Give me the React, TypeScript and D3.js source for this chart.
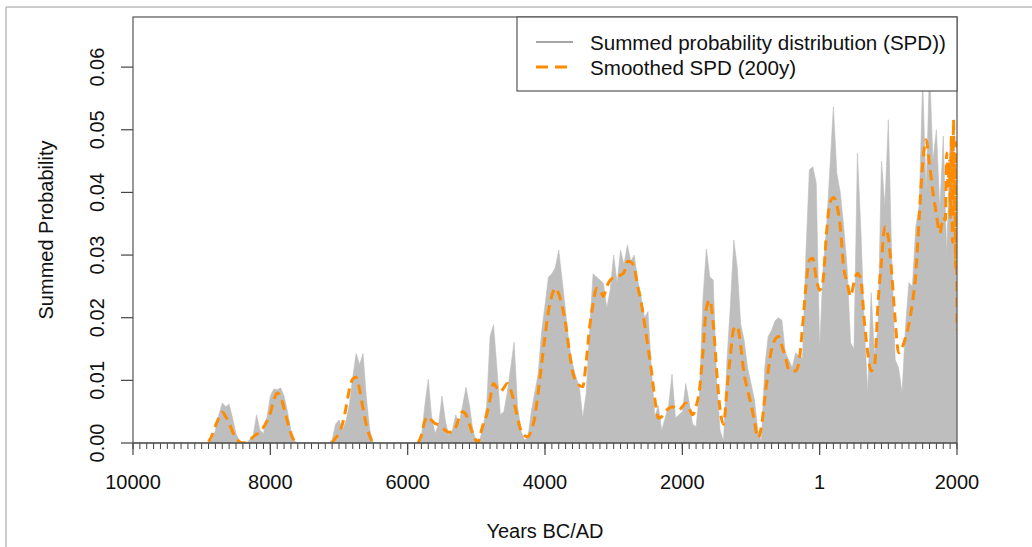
import React from 'react';
import * as d3 from 'd3';

// SPD values, one per 50 years from 10000 BC to AD 2000
const spdYears = d3.range(-10000, 2001, 50);
const spdValues = [
  // -10000 .. -8900
  0, 0, 0, 0, 0, 0, 0, 0, 0, 0, 0, 0, 0, 0, 0, 0, 0, 0, 0, 0, 0, 0, 0,
  // -8850 .. -7650
  0.0005, 0.002, 0.0045, 0.0064, 0.0058, 0.0062, 0.004, 0.0015, 0.0003, 0, 0, 0.0005, 0.0012,
  0.0045, 0.002, 0.0015, 0.004, 0.0075, 0.0086, 0.0085, 0.0088, 0.0075, 0.005, 0.002, 0.0003,
  // -7600 .. -7150
  0, 0, 0, 0, 0, 0, 0, 0, 0, 0,
  // -7100 .. -6550
  0.0005, 0.003, 0.0037, 0.002, 0.0035, 0.006, 0.0105, 0.0143, 0.0125, 0.0143, 0.007, 0.002,
  // -6500 .. -5850
  0, 0, 0, 0, 0, 0, 0, 0, 0, 0, 0, 0, 0, 0,
  // -5800 .. -5000
  0.001, 0.006, 0.0102, 0.004, 0.0015, 0.003, 0.0075, 0.0035, 0.0012, 0.002, 0.0045, 0.003,
  0.006, 0.0089, 0.006, 0.002, 0.0002,
  // -4950 .. -4000
  0.0005, 0.0025, 0.006, 0.017, 0.0189, 0.012, 0.0045, 0.005, 0.008, 0.012, 0.0161, 0.006,
  0.002, 0.0005, 0.0008, 0.005, 0.008, 0.011, 0.0177, 0.022,
  // -3950 .. -3000
  0.0265, 0.027, 0.028, 0.0308, 0.026, 0.021, 0.0157, 0.0127, 0.0105, 0.009, 0.004, 0.008,
  0.018, 0.027, 0.0265, 0.026, 0.0255, 0.0215, 0.0245, 0.03,
  // -2950 .. -2000
  0.0255, 0.0308, 0.0285, 0.0316, 0.029, 0.03, 0.026, 0.0234, 0.02, 0.021, 0.0117, 0.0042,
  0.006, 0.002, 0.004, 0.006, 0.011, 0.004, 0.0045, 0.005,
  // -1950 .. -1000
  0.0095, 0.0065, 0.003, 0.0026, 0.008, 0.023, 0.031, 0.0265, 0.026, 0.01, 0.002, 0.0003,
  0.0133, 0.022, 0.0324, 0.028, 0.019, 0.0164, 0.012, 0.0095,
  // -950 .. 0
  0.0069, 0.002, 0.0002, 0.012, 0.017, 0.018, 0.0195, 0.02, 0.0196, 0.0144, 0.0133, 0.012,
  0.0144, 0.0139, 0.0135, 0.0303, 0.0436, 0.0441, 0.0415, 0.0149,
  // 50 .. 1000
  0.028, 0.0345, 0.044, 0.0537, 0.043, 0.04, 0.0345, 0.028, 0.016, 0.015, 0.0463, 0.034,
  0.0186, 0.008, 0.024, 0.014, 0.0186, 0.045, 0.0378, 0.0516,
  // 1050 .. 2000
  0.0292, 0.0133, 0.012, 0.008, 0.0186, 0.0256, 0.025, 0.0345, 0.038, 0.058, 0.04, 0.06,
  0.045, 0.05, 0.0372, 0.049, 0.03, 0.0484, 0.047, 0.0186,
];

// Smoothed SPD (200y), null marks a break in the line
const smoothYears = [
  -8900, -8850, -8800, -8750, -8700, -8650, -8600, -8550, -8500, -8450, -8400, -8350, -8300,
  -8250, -8200, -8150, -8100, -8050, -8000, -7950, -7900, -7850, -7800, -7750, -7700, -7650, -7620,
  null,
  -7100, -7050, -7000, -6950, -6900, -6850, -6800, -6750, -6700, -6650, -6600, -6550, -6500,
  null,
  -5850, -5800, -5750, -5700, -5650, -5600, -5550, -5500, -5450, -5400, -5350, -5300, -5250,
  -5200, -5150, -5100, -5050, -5000, -4975, -4950, -4900, -4850, -4800, -4750, -4700, -4650,
  -4600, -4550, -4500, -4450, -4400, -4350, -4300, -4250, -4200, -4150, -4100, -4050, -4000,
  -3950, -3900, -3850, -3800, -3750, -3700, -3650, -3600, -3550, -3500, -3450, -3400, -3350,
  -3300, -3250, -3200, -3150, -3100, -3050, -3000, -2950, -2900, -2850, -2800, -2750, -2700,
  -2650, -2600, -2550, -2500, -2450, -2400, -2350, -2300, -2250, -2200, -2150, -2100, -2050,
  -2000, -1950, -1900, -1850, -1800, -1750, -1700, -1650, -1600, -1550, -1500, -1450, -1400,
  -1350, -1300, -1250, -1200, -1150, -1100, -1050, -1000, -950, -900, -850, -800, -750, -700,
  -650, -600, -550, -500, -450, -400, -350, -300, -250, -200, -150, -100, -50, 0, 50, 100, 150,
  200, 250, 300, 350, 400, 450, 500, 550, 600, 650, 700, 750, 800, 850, 900, 950, 1000, 1050,
  1100, 1150, 1200, 1250, 1300, 1350, 1400, 1450, 1500, 1550, 1600, 1650, 1700, 1750, 1800,
  1830, 1850, 1870, 1890, 1905, 1920, 1935, 1950, 1960, 1970, 1980, 1990, 2000,
];
const smoothValues = [
  0.0002, 0.0012, 0.0027, 0.004, 0.0049, 0.0042, 0.0032, 0.0018, 0.0008, 0.0002, 0, 0.0001, 0.0004,
  0.001, 0.0014, 0.0017, 0.0025, 0.0035, 0.0048, 0.0068, 0.008, 0.0074, 0.0055, 0.0034, 0.0015, 0.0003, 0,
  null,
  0, 0.0008, 0.0015, 0.003, 0.0055, 0.0085, 0.0102, 0.0105, 0.0085, 0.0055, 0.0028, 0.001, 0,
  null,
  0, 0.0012, 0.0035, 0.0042, 0.0036, 0.0031, 0.0029, 0.0025, 0.002, 0.0017, 0.0017, 0.0025, 0.004,
  0.005, 0.0045, 0.003, 0.0015, 0.0003, 0, 0.001, 0.003, 0.0045, 0.007, 0.0095, 0.0088, 0.0082,
  0.0088, 0.0095, 0.0085, 0.0065, 0.004, 0.002, 0.0012, 0.001, 0.002, 0.004, 0.008, 0.0125, 0.017,
  0.021, 0.0235, 0.0247, 0.0238, 0.0218, 0.019, 0.015, 0.0115, 0.0098, 0.0092, 0.009, 0.013, 0.0185,
  0.0222, 0.0247, 0.0245, 0.0234, 0.025, 0.026, 0.0264, 0.0266, 0.0268, 0.0272, 0.029, 0.0289, 0.028,
  0.025, 0.0225, 0.019, 0.0154, 0.0115, 0.007, 0.004, 0.0042, 0.005, 0.0055, 0.0058, 0.0056, 0.0053,
  0.0058, 0.0064, 0.0055, 0.0045, 0.0058, 0.0085, 0.0145, 0.0215, 0.0228, 0.019, 0.0115, 0.0053, 0.003,
  0.0085, 0.014, 0.0182, 0.0186, 0.0155, 0.011, 0.0085, 0.0062, 0.0035, 0.0008, 0.0025, 0.007, 0.0115, 0.015,
  0.0165, 0.017, 0.0155, 0.0138, 0.0117, 0.0115, 0.0115, 0.013, 0.0185, 0.025, 0.0292, 0.0295, 0.0262, 0.0244, 0.026, 0.0335, 0.0383,
  0.0392, 0.038, 0.0345, 0.028, 0.0256, 0.0234, 0.0256, 0.0271, 0.026, 0.0195, 0.0144, 0.0115, 0.0125, 0.0223, 0.029, 0.0345, 0.0328, 0.027,
  0.0196, 0.0144, 0.0152, 0.0168, 0.019, 0.0223, 0.027, 0.036, 0.0445, 0.0484, 0.0445, 0.04, 0.0365, 0.0335, 0.036,
  0.0356, 0.0463, 0.041, 0.045, 0.036, 0.049, 0.032, 0.0516, 0.038, 0.046, 0.028, 0.048, 0.018,
];

const xMajorTicks = [-10000, -8000, -6000, -4000, -2000, 0, 2000];
const xMajorLabels = ['10000', '8000', '6000', '4000', '2000', '1', '2000'];
const xMinorTicks = d3.range(-10000, 2001, 100);
const yTicks = [0, 0.01, 0.02, 0.03, 0.04, 0.05, 0.06];

const legendItems = ['Summed probability distribution (SPD))', 'Smoothed SPD (200y)'];

const FONT = '"Liberation Sans", Arial, Helvetica, sans-serif';
const SPD_GREY = '#bebebe';
const ORANGE = '#ff8c00';
const AXIS = '#444';

export default function App() {
  const width = 1032;
  const height = 547;
  const left = 133, right = 957, top = 17, bottom = 443;

  const x = d3.scaleLinear().domain([-10000, 2000]).range([left, right]);
  const y = d3.scaleLinear().domain([0, 0.068]).range([bottom, top]);

  const spd = spdYears.map((yr, i) => ({ yr, v: spdValues[i] ?? 0 }));
  const smooth = smoothYears.map((yr, i) => ({ yr, v: smoothValues[i] }));

  const area = d3.area<{ yr: number; v: number }>()
    .x(d => x(d.yr))
    .y0(y(0))
    .y1(d => y(d.v))
    .curve(d3.curveLinear);

  const line = d3.line<{ yr: number | null; v: number | null }>()
    .defined(d => d.yr !== null && d.v !== null)
    .x(d => x(d.yr as number))
    .y(d => y(d.v as number))
    .curve(d3.curveMonotoneX);

  const legLeft = 517, legBottom = 91;

  return (
    <svg width={width} height={height}
      style={{ position: 'absolute', left: 0, top: 0, display: 'block', background: '#fff' }}
      fontFamily={FONT}>
      {/* outer frame */}
      <line x1={6} y1={7} x2={width} y2={7} stroke="#bbb" strokeWidth={1.5} />
      <line x1={6} y1={7} x2={6} y2={height} stroke="#bbb" strokeWidth={1.5} />

      <defs>
        <clipPath id="plot-clip">
          <rect x={left} y={top} width={right - left} height={bottom - top} />
        </clipPath>
      </defs>

      <g clipPath="url(#plot-clip)">
        <path d={area(spd) || ''} fill={SPD_GREY} stroke={SPD_GREY} strokeWidth={0.6} />
        <path d={line(smooth) || ''} fill="none" stroke={ORANGE} strokeWidth={3}
          strokeDasharray="10 6" />
      </g>

      {/* x axis */}
      <line x1={left} y1={bottom} x2={right} y2={bottom} stroke={AXIS} strokeWidth={1.2} />
      {xMinorTicks.map(t => (
        <line key={'m' + t} x1={x(t)} x2={x(t)} y1={bottom} y2={bottom + 6} stroke={AXIS} strokeWidth={1} />
      ))}
      {xMajorTicks.map((t, i) => (
        <g key={'M' + t}>
          <line x1={x(t)} x2={x(t)} y1={bottom} y2={bottom + 12} stroke={AXIS} strokeWidth={1.2} />
          <text x={x(t)} y={482} textAnchor="middle" dominantBaseline="central" fontSize={20} fill="#111">
            {xMajorLabels[i]}
          </text>
        </g>
      ))}

      {/* y axis */}
      {yTicks.map(t => (
        <g key={'y' + t}>
          <line x1={left - 12} x2={left} y1={y(t)} y2={y(t)} stroke={AXIS} strokeWidth={1.2} />
          <text transform={`translate(97,${y(t)}) rotate(-90)`} textAnchor="middle"
            dominantBaseline="central" fontSize={20} fill="#111">
            {t.toFixed(2)}
          </text>
        </g>
      ))}

      {/* plot box */}
      <rect x={left} y={top} width={right - left} height={bottom - top} fill="none" stroke="#555" strokeWidth={1.2} />

      {/* axis titles */}
      <text transform={`translate(46,${(top + bottom) / 2}) rotate(-90)`} textAnchor="middle"
        dominantBaseline="central" fontSize={20} fill="#111">Summed Probability</text>
      <text x={(left + right) / 2} y={531} textAnchor="middle" dominantBaseline="central"
        fontSize={20} fill="#111">Years BC/AD</text>

      {/* legend */}
      <rect x={legLeft} y={top} width={right - legLeft} height={legBottom - top} fill="#fff" stroke="#555" strokeWidth={1.2} />
      <line x1={536} x2={573} y1={42} y2={42} stroke="#888" strokeWidth={1.5} />
      <line x1={536} x2={573} y1={67} y2={67} stroke={ORANGE} strokeWidth={3} strokeDasharray="12 7" />
      {legendItems.map((s, i) => (
        <text key={s} x={590} y={42 + i * 25} dominantBaseline="central" fontSize={20.6} fill="#111">{s}</text>
      ))}
    </svg>
  );
}
